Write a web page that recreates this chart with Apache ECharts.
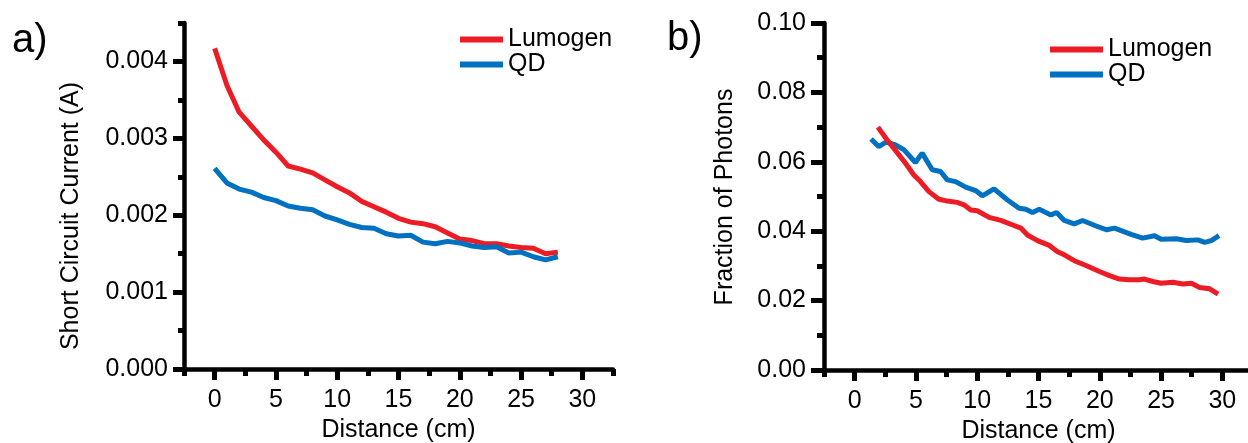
<!DOCTYPE html>
<html>
<head>
<meta charset="utf-8">
<script src="https://cdn.jsdelivr.net/npm/echarts@6/dist/echarts.min.js"></script>
<style>
html,body{margin:0;padding:0;background:#fff;}
#chart{width:1248px;height:443px;}
</style>
</head>
<body>
<div id="chart"></div>
<script>
// ---------- DATA ----------
// Panel a) Short circuit current (A) vs distance (cm)
const distA = [0,1,2,3,4,5,6,7,8,9,10,11,12,13,14,15,16,17,18,19,20,21,22,23,24,25,26,27,28];
const lumogenA = [0.00417,0.00369,0.00334,0.00316,0.00298,0.00282,0.00264,0.00260,0.00255,0.00246,0.00237,0.00229,0.00218,0.00211,0.00204,0.00196,0.00191,0.00189,0.00185,0.00177,0.00169,0.00167,0.00163,0.00163,0.00160,0.00158,0.00157,0.00150,0.00152];
const qdA = [0.00261,0.00242,0.00234,0.00230,0.00223,0.00219,0.00212,0.00209,0.00207,0.00199,0.00194,0.00188,0.00184,0.00183,0.00176,0.00173,0.00174,0.00165,0.00163,0.00166,0.00164,0.00160,0.00158,0.00159,0.00151,0.00152,0.00146,0.00142,0.00146];

// Panel b) Fraction of photons vs distance (cm)
const distLumogenB = [1.9,2.65,3.33,4.15,4.83,5.37,6.06,6.87,7.42,8.37,8.92,9.47,10.0,10.97,11.92,12.74,13.56,14.1,14.92,15.88,16.56,17.1,17.92,18.88,19.97,20.79,21.6,22.42,23.24,23.65,24.33,25.0,25.97,26.78,27.47,28.15,28.97,29.65];
const lumogenB = [0.0700,0.0663,0.0633,0.0596,0.0562,0.0543,0.0514,0.0492,0.0488,0.0483,0.0476,0.0461,0.0459,0.0440,0.0431,0.0420,0.0409,0.0389,0.0373,0.0359,0.0341,0.0332,0.0315,0.0301,0.0284,0.0272,0.0262,0.0260,0.0260,0.0262,0.0255,0.0250,0.0253,0.0248,0.0250,0.0238,0.0234,0.0219];
const distQdB = [1.34,1.96,2.56,3.33,4.01,4.96,5.51,6.33,7.01,7.56,8.24,9.06,9.87,10.42,11.37,12.47,13.42,13.97,14.51,15.06,16.01,16.48,17.1,17.92,18.6,19.7,20.57,21.2,22.56,23.5,24.47,25.0,26.24,27.06,28.0,28.56,29.1,29.73];
const qdB = [0.0666,0.0644,0.0657,0.0649,0.0635,0.0598,0.0625,0.0577,0.0572,0.0548,0.0543,0.0527,0.0517,0.0502,0.0522,0.0490,0.0466,0.0463,0.0454,0.0463,0.0447,0.0454,0.0431,0.0421,0.0431,0.0415,0.0404,0.0409,0.0391,0.0380,0.0387,0.0377,0.0378,0.0373,0.0375,0.0368,0.0373,0.0387];

// Tick labels
const xTickValues = [0,5,10,15,20,25,30];
const xTickLabels = ['0','5','10','15','20','25','30'];
const yTickValuesA = [0,0.001,0.002,0.003,0.004];
const yTickLabelsA = ['0.000','0.001','0.002','0.003','0.004'];
const yTickValuesB = [0,0.02,0.04,0.06,0.08,0.10];
const yTickLabelsB = ['0.00','0.02','0.04','0.06','0.08','0.10'];

const seriesNames = ['Lumogen','QD'];
const colors = ['#ED1C24','#0070C0'];

// ---------- CHART ----------
const FONT = "'Liberation Sans', Arial, Helvetica, sans-serif";
const chart = echarts.init(document.getElementById('chart'), null, {renderer:'canvas'});

function lookupLabel(v, values, labels){
  for (let i=0;i<values.length;i++){ if (Math.abs(values[i]-v) < 1e-9) return labels[i]; }
  return '';
}
function xMain(gi){
  return {
    type:'value', gridIndex:gi, position:'bottom', min:-2.5, max:32.5, interval:2.5,
    axisLine:{show:true, onZero:false, lineStyle:{color:'#000', width:4.5}},
    axisTick:{show:true, length:7, lineStyle:{color:'#000', width:5}},
    axisLabel:{show:true, margin:19, color:'#000', fontSize:25, fontFamily:FONT,
      formatter:(v)=>lookupLabel(v, xTickValues, xTickLabels)},
    splitLine:{show:false},
    name:'Distance (cm)', nameLocation:'middle', nameGap:49,
    nameTextStyle:{color:'#000', fontSize:25, fontFamily:FONT}
  };
}
function xMajor(gi){
  return {
    type:'value', gridIndex:gi, position:'bottom', offset:0, min:-2.5, max:32.5, interval:2.5,
    axisLine:{show:false, onZero:false},
    axisTick:{show:true, length:11, customValues:xTickValues, lineStyle:{color:'#000', width:5}},
    axisLabel:{show:false}, splitLine:{show:false}
  };
}
function yMain(gi, max, interval, vals, labs, margin, minorLen){
  return {
    type:'value', gridIndex:gi, position:'left', min:0, max:max, interval:interval,
    axisLine:{show:true, onZero:false, lineStyle:{color:'#000', width:4.5}},
    axisTick:{show:true, length:minorLen, lineStyle:{color:'#000', width:5}},
    axisLabel:{show:true, margin:margin, color:'#000', fontSize:25, fontFamily:FONT,
      formatter:(v)=>lookupLabel(v, vals, labs)},
    splitLine:{show:false}
  };
}
function yMajor(gi, max, interval, vals, len){
  return {
    type:'value', gridIndex:gi, position:'left', offset:0, min:0, max:max, interval:interval,
    axisLine:{show:false, onZero:false},
    axisTick:{show:true, length:len, customValues:vals, lineStyle:{color:'#000', width:5}},
    axisLabel:{show:false}, splitLine:{show:false}
  };
}
function lineSeries(name, color, xi, yi, xs, ys, z){
  return {
    type:'line', name:name, xAxisIndex:xi, yAxisIndex:yi, z:z,
    data: xs.map((x,i)=>[x, ys[i]]),
    showSymbol:false, symbol:'none', smooth:false,
    lineStyle:{color:color, width:5}, itemStyle:{color:color},
    emphasis:{disabled:true}
  };
}

const option = {
  animation:false,
  backgroundColor:'#fff',
  textStyle:{fontFamily:FONT},
  grid:[
    {left:184, top:23, width:429, height:346, containLabel:false, outerBoundsMode:'none'},
    {left:824, top:23, width:429, height:347, containLabel:false, outerBoundsMode:'none'}
  ],
  xAxis:[xMain(0), xMajor(0), xMain(1), xMajor(1)],
  yAxis:[
    yMain(0, 0.0045, 0.0005, yTickValuesA, yTickLabelsA, 16, 6),
    yMajor(0, 0.0045, 0.0005, yTickValuesA, 11),
    yMain(1, 0.10, 0.01, yTickValuesB, yTickLabelsB, 18, 7),
    yMajor(1, 0.10, 0.01, yTickValuesB, 13)
  ],
  legend:[
    {orient:'vertical', left:460, top:27, padding:0, itemGap:0, itemWidth:43, itemHeight:6,
     icon:'rect', selectedMode:false, data:seriesNames,
     textStyle:{color:'#000', fontSize:25, lineHeight:24, fontFamily:FONT, padding:[0,0,0,0]}},
    {orient:'vertical', left:1050, top:37, padding:0, itemGap:0, itemWidth:53, itemHeight:6,
     icon:'rect', selectedMode:false, data:seriesNames,
     textStyle:{color:'#000', fontSize:25, lineHeight:25, fontFamily:FONT}}
  ],
  graphic:[
    {type:'text', x:12, y:41, style:{text:'a)', fill:'#000', fontSize:40, fontFamily:FONT, verticalAlign:'middle', align:'left'}},
    {type:'text', x:667, y:39, style:{text:'b)', fill:'#000', fontSize:40, fontFamily:FONT, verticalAlign:'middle', align:'left'}},
    {type:'text', x:71, y:216, rotation:Math.PI/2, style:{text:'Short Circuit Current (A)', fill:'#000', fontSize:25, fontFamily:FONT, align:'center', verticalAlign:'middle'}},
    {type:'text', x:725, y:197, rotation:Math.PI/2, style:{text:'Fraction of Photons', fill:'#000', fontSize:25, fontFamily:FONT, align:'center', verticalAlign:'middle'}}
  ],
  series:[
    lineSeries(seriesNames[0], colors[0], 0, 0, distA, lumogenA, 2),
    lineSeries(seriesNames[1], colors[1], 0, 0, distA, qdA, 3),
    lineSeries(seriesNames[0], colors[0], 2, 2, distLumogenB, lumogenB, 3),
    lineSeries(seriesNames[1], colors[1], 2, 2, distQdB, qdB, 2)
  ]
};
chart.setOption(option);
</script>
</body>
</html>
